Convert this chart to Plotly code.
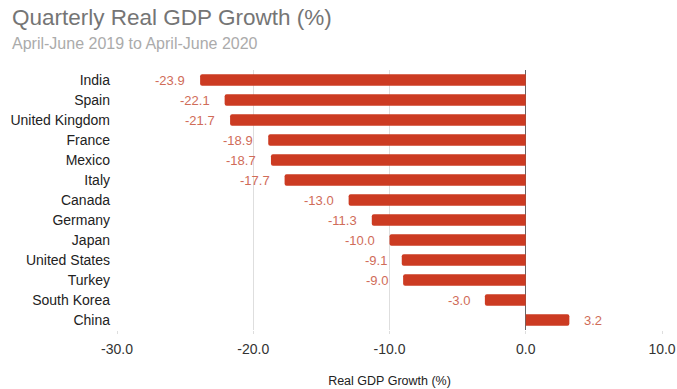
import plotly.graph_objects as go

countries = ["India", "Spain", "United Kingdom", "France", "Mexico", "Italy", "Canada",
             "Germany", "Japan", "United States", "Turkey", "South Korea", "China"]
growth = [-23.9, -22.1, -21.7, -18.9, -18.7, -17.7, -13.0, -11.3, -10.0, -9.1, -9.0, -3.0, 3.2]
x_ticks = [-30, -20, -10, 0, 10]

FONT = "Liberation Sans"
L, R, T, B = 117, 15, 70, 59
W, H = 677, 389
PW, PH = W - L - R, H - T - B

fig = go.Figure(go.Bar(
    y=countries, x=growth, orientation="h",
    marker=dict(color="#cc3b22", line=dict(width=0), cornerradius=2),
    width=0.58, hoverinfo="x+y",
))

for c, v in zip(countries, growth):
    fig.add_annotation(x=v, y=c, text=f"{v:.1f}", showarrow=False,
                       xanchor="right" if v < 0 else "left",
                       xshift=-13 if v < 0 else 13,
                       font=dict(size=13, color="#d06c58", family=FONT))

fig.add_annotation(text="Quarterly Real GDP Growth (%)", xref="paper", yref="paper",
                   x=-(L - 10) / PW, y=1 + (T - 17) / PH, xanchor="left", yanchor="middle",
                   showarrow=False, font=dict(size=22.5, color="#757575", family=FONT))
fig.add_annotation(text="April-June 2019 to April-June 2020", xref="paper", yref="paper",
                   x=-(L - 10) / PW, y=1 + (T - 44) / PH, xanchor="left", yanchor="middle",
                   showarrow=False, font=dict(size=16, color="#ababab", family=FONT))

fig.update_layout(
    width=W, height=H,
    margin=dict(l=L, r=R, t=T, b=B, autoexpand=False),
    paper_bgcolor="white", plot_bgcolor="white",
    font=dict(family=FONT, color="#222"),
    showlegend=False,
)

fig.update_xaxes(range=[-30, 10], tickvals=x_ticks, ticktext=[f"{v:.1f}" for v in x_ticks],
                 automargin=False,
                 showgrid=True, gridcolor="#dedede", gridwidth=1,
                 zeroline=True, zerolinecolor="#666", zerolinewidth=1,
                 tickfont=dict(size=14, color="#333"),
                 ticks="outside", ticklen=3, tickcolor="#dedede", ticklabelstandoff=3,
                 title=dict(text="Real GDP Growth (%)", font=dict(size=12.5, color="#222"), standoff=20))
fig.update_yaxes(autorange="reversed", automargin=False, tickfont=dict(size=14, color="#222"),
                 ticks="", showgrid=False, ticklabelstandoff=6)

fig.write_html("out.html", config={"displayModeBar": False},
               post_script="document.body.style.margin='0';document.body.style.overflow='hidden';")
